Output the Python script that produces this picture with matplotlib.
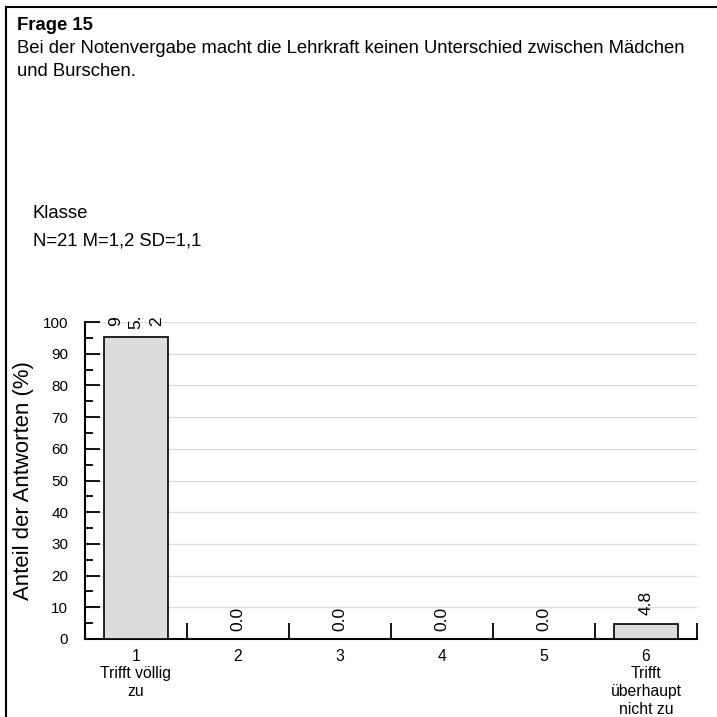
import matplotlib
matplotlib.use("Agg")
import matplotlib.pyplot as plt
from matplotlib.patches import Rectangle
from matplotlib.ticker import MultipleLocator, FixedLocator

plt.rcParams['font.family'] = ['Liberation Sans', 'DejaVu Sans']

title_bold = "Frage 15"
question_lines = ["Bei der Notenvergabe macht die Lehrkraft keinen Unterschied zwischen Mädchen",
                  "und Burschen."]
group = "Klasse"
stats = "N=21 M=1,2 SD=1,1"
categories = [1, 2, 3, 4, 5, 6]
cat_labels = ["1\nTrifft völlig\nzu", "2", "3", "4", "5", "6\nTrifft\nüberhaupt\nnicht zu"]
values = [95.2, 0.0, 0.0, 0.0, 0.0, 4.8]
y_label = "Anteil der Antworten (%)"

W = H = 717
fig = plt.figure(figsize=(7.17, 7.17), dpi=100)

# frame
fig.add_artist(Rectangle((5.5 / W, -0.05), 2.0, 1.05 - 7 / H, transform=fig.transFigure,
                         fill=False, edgecolor='black', linewidth=1.5))

fs = 13.3
fig.text(17 / W, 1 - 30 / H, title_bold, fontsize=fs, fontweight='bold', va='baseline', ha='left')
for i, line in enumerate(question_lines):
    fig.text(17 / W, 1 - (53 + 23 * i) / H, line, fontsize=fs, va='baseline', ha='left')
fig.text(33 / W, 1 - 218 / H, group, fontsize=fs, va='baseline', ha='left')
fig.text(33 / W, 1 - 245 / H, stats, fontsize=fs, va='baseline', ha='left')

ax = fig.add_axes([85 / W, 1 - 639 / H, 612 / W, 317 / H])
ax.bar(categories, values, width=0.62, color='#dcdcdc', edgecolor='black', linewidth=1.2, zorder=3)
ax.set_xlim(0.5, 6.5)
ax.set_ylim(0, 100)

for s in ['top', 'right']:
    ax.spines[s].set_visible(False)
for s in ['left', 'bottom']:
    ax.spines[s].set_linewidth(1.5)

ax.yaxis.set_major_locator(MultipleLocator(10))
ax.yaxis.set_minor_locator(MultipleLocator(5))
ax.tick_params(axis='y', which='major', direction='in', length=11, width=1.3, labelsize=11, pad=12)
ax.tick_params(axis='y', which='minor', direction='in', length=5.5, width=1.3)
ax.yaxis.grid(True, which='major', color='#dedede', linewidth=1.0, zorder=0)
ax.set_axisbelow(True)

ax.set_xticks(categories)
ax.set_xticklabels(cat_labels, fontsize=11.3, linespacing=1.22)
ax.tick_params(axis='x', which='major', length=0, pad=7)
ax.xaxis.set_minor_locator(FixedLocator([c + 0.5 for c in categories]))
ax.tick_params(axis='x', which='minor', direction='in', length=11.5, width=1.3)

ax.set_ylabel(y_label, fontsize=15.9)
ax.yaxis.set_label_coords(-51 / 612, 0.5)

for c, v in zip(categories, values):
    txt = f"{v:.1f}"
    if v > 90:
        txt = "9\n5.\n2"
    ax.annotate(txt, (c, v), xytext=(0, 6), textcoords='offset points', rotation=90,
                ha='center', va='bottom', fontsize=12.5, linespacing=1.45, zorder=4,
                annotation_clip=False)

fig.savefig("out.png", dpi=100)
